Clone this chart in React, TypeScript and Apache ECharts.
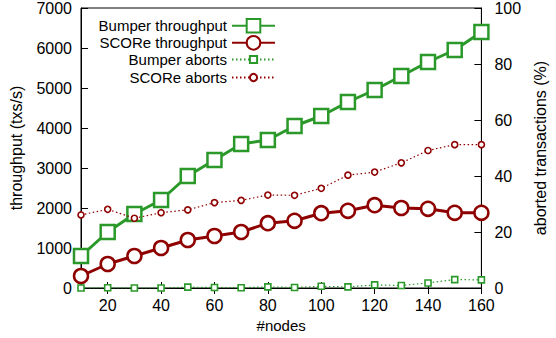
import React, { useEffect, useRef } from "react";
import * as echarts from "echarts";

const nodes = [10, 20, 30, 40, 50, 60, 70, 80, 90, 100, 110, 120, 130, 140, 150, 160];
const bumperThroughput = [800, 1400, 1850, 2200, 2800, 3200, 3600, 3700, 4050, 4300, 4650, 4950, 5300, 5650, 5950, 6400];
const scoreThroughput = [300, 600, 800, 1000, 1200, 1300, 1400, 1620, 1680, 1870, 1930, 2070, 2000, 1980, 1880, 1880];
const bumperAborts = [0, 0.1, 0, 0, 0.3, 0.2, 0.1, 0.4, 0.2, 0.6, 0.4, 1.1, 0.9, 1.8, 3.0, 2.9];
const scoreAborts = [26.1, 28.1, 24.9, 26.9, 27.9, 30.5, 31.3, 33.2, 33.1, 35.6, 40.3, 41.4, 44.7, 49.1, 51.2, 51.2];
const xTicks = [20, 40, 60, 80, 100, 120, 140, 160];

const GREEN = "#2a992a";
const RED = "#8f0000";
const FONT = "'Liberation Sans', Arial, Helvetica, sans-serif";

const pairs = (ys: number[]) => nodes.map((x, i) => [x, ys[i]]);
const plain = (v: number) => String(v);

export default function App() {
  const ref = useRef<HTMLDivElement>(null);
  useEffect(() => {
    if (!ref.current) return;
    const chart = echarts.init(ref.current, null, { renderer: "svg" });
    const legendBase = {
      orient: "vertical" as const,
      align: "right" as const,
      right: 280,
      padding: 0,
      itemWidth: 43,
      textStyle: { fontSize: 15, lineHeight: 15, fontFamily: FONT, color: "#000" },
    };
    chart.setOption({
      animation: false,
      backgroundColor: "#fff",
      textStyle: { fontFamily: FONT },
      grid: { left: 79, right: 65, top: 8, bottom: 49, show: true, borderColor: "#000", borderWidth: 1, backgroundColor: "transparent" },
      legend: [
        { ...legendBase, data: ["Bumper throughput"], top: 18, itemHeight: 17 },
        { ...legendBase, data: ["SCORe throughput"], top: 35, itemHeight: 17 },
        { ...legendBase, data: ["Bumper aborts"], top: 52, itemHeight: 9 },
        { ...legendBase, data: ["SCORe aborts"], top: 70, itemHeight: 9 },
      ],
      xAxis: [
        {
          type: "value",
          min: 10,
          max: 160,
          position: "bottom",
          name: "#nodes",
          nameLocation: "middle",
          nameGap: 30,
          nameTextStyle: { fontSize: 15, color: "#000", fontFamily: FONT },
          axisLine: { show: true, lineStyle: { color: "#000", width: 1 } },
          axisTick: { show: true, inside: true, length: 6, customValues: xTicks, lineStyle: { color: "#000" } },
          axisLabel: { show: true, customValues: xTicks, fontSize: 16, color: "#000", margin: 9, fontFamily: FONT, formatter: plain },
          splitLine: { show: false },
        },
        {
          type: "value",
          min: 10,
          max: 160,
          position: "top",
          axisLine: { show: true, lineStyle: { color: "#000", width: 1 } },
          axisTick: { show: true, inside: true, length: 6, customValues: xTicks, lineStyle: { color: "#000" } },
          axisLabel: { show: false },
          splitLine: { show: false },
        },
      ],
      yAxis: [
        {
          type: "value",
          min: 0,
          max: 7000,
          interval: 1000,
          position: "left",
          name: "throughput (txs/s)",
          nameLocation: "middle",
          nameGap: 57,
          nameTextStyle: { fontSize: 16, color: "#000", fontFamily: FONT },
          axisLine: { show: true, lineStyle: { color: "#000", width: 1 } },
          axisTick: { show: true, inside: true, length: 7, lineStyle: { color: "#000" } },
          axisLabel: { fontSize: 16, color: "#000", margin: 9, fontFamily: FONT, formatter: plain },
          splitLine: { show: false },
        },
        {
          type: "value",
          min: 0,
          max: 100,
          interval: 20,
          position: "right",
          name: "aborted transactions (%)",
          nameLocation: "middle",
          nameGap: 50,
          nameTextStyle: { fontSize: 16, color: "#000", fontFamily: FONT },
          axisLine: { show: true, lineStyle: { color: "#000", width: 1 } },
          axisTick: { show: true, inside: true, length: 7, lineStyle: { color: "#000" } },
          axisLabel: { fontSize: 16, color: "#000", margin: 13, fontFamily: FONT, formatter: plain },
          splitLine: { show: false },
        },
      ],
      series: [
        {
          name: "Bumper throughput",
          type: "line",
          data: pairs(bumperThroughput),
          yAxisIndex: 0,
          symbol: "rect",
          symbolSize: 14,
          color: GREEN,
          lineStyle: { color: GREEN, width: 3 },
          itemStyle: { color: "#fff", borderColor: GREEN, borderWidth: 2.5 },
          z: 3,
        },
        {
          name: "SCORe throughput",
          type: "line",
          data: pairs(scoreThroughput),
          yAxisIndex: 0,
          symbol: "circle",
          symbolSize: 14,
          color: RED,
          lineStyle: { color: RED, width: 3 },
          itemStyle: { color: "#fff", borderColor: RED, borderWidth: 2.5 },
          z: 4,
        },
        {
          name: "Bumper aborts",
          type: "line",
          data: pairs(bumperAborts),
          yAxisIndex: 1,
          symbol: "rect",
          symbolSize: 6,
          color: GREEN,
          lineStyle: { color: GREEN, width: 1.2, type: [1.5, 2.5] },
          itemStyle: { color: "#fff", borderColor: GREEN, borderWidth: 1.6 },
          z: 5,
        },
        {
          name: "SCORe aborts",
          type: "line",
          data: pairs(scoreAborts),
          yAxisIndex: 1,
          symbol: "circle",
          symbolSize: 6,
          color: RED,
          lineStyle: { color: RED, width: 1.2, type: [1.5, 2.5] },
          itemStyle: { color: "#fff", borderColor: RED, borderWidth: 1.6 },
          z: 6,
        },
      ],
    });
    return () => chart.dispose();
  }, []);
  return <div ref={ref} style={{ width: 556, height: 338, position: "absolute", left: 0, top: 0 }} />;
}
